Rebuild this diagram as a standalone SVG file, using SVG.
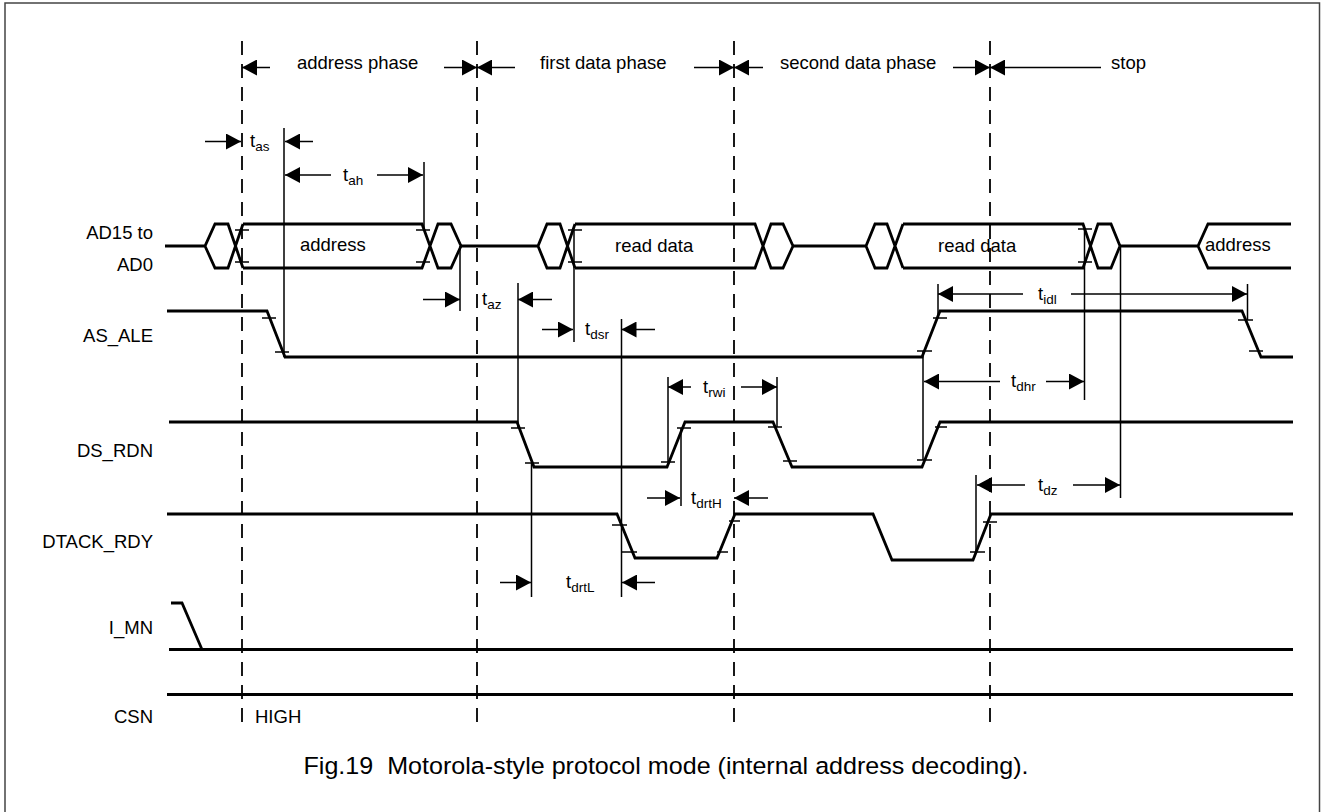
<svg xmlns="http://www.w3.org/2000/svg" width="1327" height="812" viewBox="0 0 1327 812">
<style>
text{font-family:"Liberation Sans",Arial,sans-serif;fill:#000}
.lbl{font-size:18.5px}
.sig{font-size:18.5px;text-anchor:end}
.t{font-size:18.5px}
.sub{font-size:13.5px}
.cap{font-size:24.5px;text-anchor:middle;white-space:pre}
.w{fill:none;stroke:#000;stroke-width:2.8;stroke-linejoin:miter}
.tk{fill:none;stroke:#000;stroke-width:1.4}
.thin{fill:none;stroke:#000;stroke-width:1.5}
.arr{fill:none;stroke:#000;stroke-width:1.5;marker-end:url(#ah)}
.dash{fill:none;stroke:#000;stroke-width:1.8;stroke-dasharray:14 9}
</style>
<defs>
<marker id="ah" viewBox="0 0 15 16" refX="15" refY="8" markerWidth="15" markerHeight="16" markerUnits="userSpaceOnUse" orient="auto">
<path d="M0,0 L15,8 L0,16 Z" fill="#000"/>
</marker>
</defs>
<rect x="5" y="3" width="1314.5" height="812" fill="#fff" stroke="#444" stroke-width="1.5"/>

<g id="phase-markers">
<line class="dash" x1="242" y1="41" x2="242" y2="726"/>
<line class="dash" x1="477" y1="41" x2="477" y2="726"/>
<line class="dash" x1="734" y1="41" x2="734" y2="726"/>
<line class="dash" x1="990" y1="41" x2="990" y2="726"/>
<text class="lbl" x="297" y="69">address phase</text>
<text class="lbl" x="540" y="69">first data phase</text>
<text class="lbl" x="780" y="69">second data phase</text>
<text class="lbl" x="1111" y="69">stop</text>
</g>

<g id="labels">
<text class="sig" x="153" y="239">AD15 to</text>
<text class="sig" x="153" y="271">AD0</text>
<text class="sig" x="153" y="342">AS_ALE</text>
<text class="sig" x="153" y="457">DS_RDN</text>
<text class="sig" x="153" y="548">DTACK_RDY</text>
<text class="sig" x="153" y="634">I_MN</text>
<text class="sig" x="153" y="723">CSN</text>
</g>

<g id="AD-bus">
<path class="w" d="M165,246 H205 L215,224 H228 L243,268 M205,246 L215,268 H228 L243,224"/>
<path class="w" d="M243,224 H422 L438,268 H451 L461,246 M243,268 H422 L438,224 H451 L461,246"/>
<path class="w" d="M461,246 H538 L547,224 H560 L575,268 M538,246 L547,268 H560 L575,224"/>
<path class="w" d="M575,224 H755 L771,268 H783 L793,246 M575,268 H755 L771,224 H783 L793,246"/>
<path class="w" d="M793,246 H866 L875,224 H887 L903,268 M866,246 L875,268 H887 L903,224"/>
<path class="w" d="M903,224 H1083 L1098,268 H1111 L1120,246 M903,268 H1083 L1098,224 H1111 L1120,246"/>
<path class="w" d="M1120,246 H1198 L1208,224 H1291 M1198,246 L1208,268 H1291"/>
<path class="tk" d="M235,230 H249 M235,262 H249 M416,230 H430 M416,262 H430 M568,230 H582 M568,262 H582 M1078,229 H1092 M1078,262 H1092"/>
<text class="lbl" x="300" y="251">address</text>
<text class="lbl" x="615" y="252">read data</text>
<text class="lbl" x="938" y="252">read data</text>
<text class="lbl" x="1205" y="251">address</text>
</g>

<g id="AS_ALE">
<path class="w" d="M167,311 H267 L285,357 H922 L940,311 H1242 L1261,357 H1293"/>
<path class="tk" d="M262,318 H276 M275,352 H289 M917,351 H932 M933,318 H947 M1238,320 H1253 M1249,351 H1263"/>
</g>

<g id="DS_RDN">
<path class="w" d="M169,422 H517 L534,467 H667 L685,422 H773 L792,467 H922 L940,422 H1293"/>
<path class="tk" d="M511,428 H525 M525,463 H539 M661,462 H675 M677,428 H691 M768,427 H782 M783,461 H797 M917,460 H932 M935,427 H947"/>
</g>

<g id="DTACK_RDY">
<path class="w" d="M167,514 H617 L635,558 H717 L735,514 H873 L892,560 H973 L991,514 H1293"/>
<path class="tk" d="M612,525 H627 M622,552 H637 M717,552 H728 M729,521 H740 M970,552 H985 M983,522 H997"/>
</g>

<g id="I_MN">
<path class="w" d="M171,603 H182 L202,649.5"/>
<path class="w" d="M169,649.5 H1293"/>
</g>

<g id="CSN">
<path class="w" d="M167,694.5 H1293"/>
<text class="lbl" x="255" y="723">HIGH</text>
</g>

<g id="connectors">
<line class="arr" x1="270" y1="67.5" x2="242" y2="67.5"/>
<line class="arr" x1="444" y1="67.5" x2="477" y2="67.5"/>
<line class="arr" x1="515" y1="67.5" x2="477" y2="67.5"/>
<line class="arr" x1="694" y1="67.5" x2="734" y2="67.5"/>
<line class="arr" x1="763" y1="67.5" x2="734" y2="67.5"/>
<line class="arr" x1="953" y1="67.5" x2="990" y2="67.5"/>
<line class="arr" x1="1101" y1="67.5" x2="990" y2="67.5"/>

<path class="thin" d="M284,128 V357 M424,162 V230 M460,246 V311 M518,283 V428 M574,230 V342 M621.5,319 V597 M668,377 V462 M777,377 V427 M681,428 V506 M531.5,463 V597 M938,284 V318 M1247.5,284 V320 M923,351 V460 M1084.5,228 V400 M976,475 V552 M1120.5,246 V498"/>

<line class="arr" x1="205" y1="141.5" x2="241" y2="141.5"/>
<line class="arr" x1="313" y1="141.5" x2="285" y2="141.5"/>
<text class="t" x="250" y="147">t<tspan class="sub" dy="4">as</tspan></text>

<line class="arr" x1="331" y1="175" x2="285" y2="175"/>
<line class="arr" x1="377" y1="175" x2="423" y2="175"/>
<text class="t" x="343" y="181">t<tspan class="sub" dy="4">ah</tspan></text>

<line class="arr" x1="423" y1="299.5" x2="460" y2="299.5"/>
<line class="arr" x1="552" y1="299.5" x2="518" y2="299.5"/>
<text class="t" x="482" y="305">t<tspan class="sub" dy="4">az</tspan></text>

<line class="arr" x1="542" y1="329.5" x2="573" y2="329.5"/>
<line class="arr" x1="655" y1="329.5" x2="621.5" y2="329.5"/>
<text class="t" x="585" y="335">t<tspan class="sub" dy="4">dsr</tspan></text>

<line class="arr" x1="691" y1="387" x2="668" y2="387"/>
<line class="arr" x1="741" y1="387" x2="777" y2="387"/>
<text class="t" x="703" y="393">t<tspan class="sub" dy="4">rwi</tspan></text>

<line class="arr" x1="647" y1="498" x2="680" y2="498"/>
<line class="arr" x1="768" y1="498" x2="734" y2="498"/>
<text class="t" x="691" y="504">t<tspan class="sub" dy="4">drtH</tspan></text>

<line class="arr" x1="500" y1="582.5" x2="531" y2="582.5"/>
<line class="arr" x1="655" y1="582.5" x2="622" y2="582.5"/>
<text class="t" x="566" y="588">t<tspan class="sub" dy="4">drtL</tspan></text>

<line class="arr" x1="1023" y1="294" x2="938" y2="294"/>
<line class="arr" x1="1071" y1="294" x2="1247" y2="294"/>
<text class="t" x="1038" y="300">t<tspan class="sub" dy="4">idl</tspan></text>

<line class="arr" x1="1000" y1="381.5" x2="924" y2="381.5"/>
<line class="arr" x1="1046" y1="381.5" x2="1084" y2="381.5"/>
<text class="t" x="1011" y="387">t<tspan class="sub" dy="4">dhr</tspan></text>

<line class="arr" x1="1025" y1="485" x2="977" y2="485"/>
<line class="arr" x1="1073" y1="485" x2="1120" y2="485"/>
<text class="t" x="1038" y="491">t<tspan class="sub" dy="4">dz</tspan></text>
</g>

<text class="cap" x="666" y="774" textLength="725" lengthAdjust="spacingAndGlyphs" xml:space="preserve">Fig.19  Motorola-style protocol mode (internal address decoding).</text>
</svg>
